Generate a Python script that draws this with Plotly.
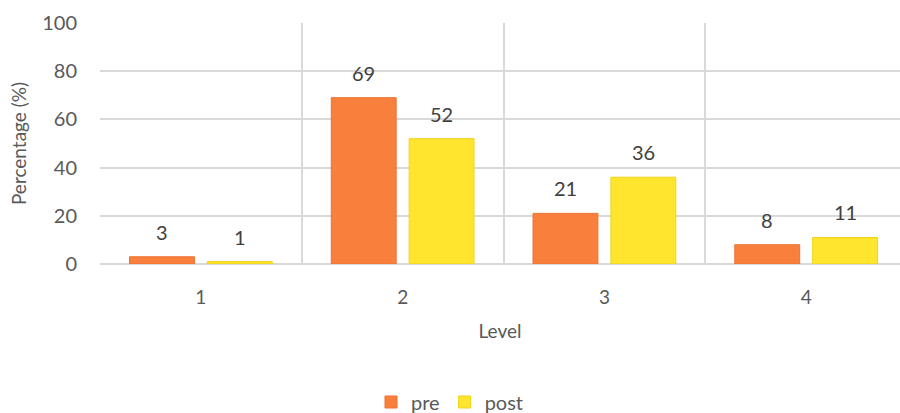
import plotly.graph_objects as go

levels = ["1", "2", "3", "4"]
pre = [3, 69, 21, 8]
post = [1, 52, 36, 11]

FONT = "Lato, 'Open Sans', sans-serif"
xs = list(range(len(levels)))

fig = go.Figure()
fig.add_trace(go.Bar(name="pre", x=xs, y=pre,
                     marker=dict(color="#F97F3C", line=dict(color="#EE7030", width=1))))
fig.add_trace(go.Bar(name="post", x=xs, y=post,
                     marker=dict(color="#FFE52E", line=dict(color="#F0D218", width=1))))

for i in xs:
    fig.add_annotation(x=i, y=pre[i], text=str(pre[i]), showarrow=False,
                       xshift=-39, yshift=11, yanchor="bottom",
                       font=dict(size=20, color="#404040", family=FONT))
    fig.add_annotation(x=i, y=post[i], text=str(post[i]), showarrow=False,
                       xshift=39, yshift=11, yanchor="bottom",
                       font=dict(size=20, color="#404040", family=FONT))

fig.update_layout(
    width=900, height=413,
    margin=dict(l=100, r=0, t=23, b=149),
    paper_bgcolor="white", plot_bgcolor="white",
    barmode="group", bargap=0.228, bargroupgap=0.167,
    font=dict(family=FONT, color="#595959", size=20),
    showlegend=True,
    legend=dict(orientation="h", xref="container", yref="container",
                x=0.5, xanchor="center", y=1 - 402 / 413, yanchor="middle",
                font=dict(size=20, color="#595959"), itemwidth=30,
                traceorder="normal"),
    xaxis=dict(range=[-0.5, 3.465], tickvals=xs, ticktext=levels,
               showgrid=False, zeroline=False, showline=False,
               ticks="", tickfont=dict(size=19, color="#595959"), ticklabelstandoff=20,
               title=dict(text="Level", font=dict(size=19, color="#595959"), standoff=17),
               minor=dict(tickvals=[-0.5, 0.5, 1.5, 2.5, 3.5], showgrid=True,
                          gridcolor="#D9D9D9", gridwidth=1.5, ticks="")),
    yaxis=dict(range=[0, 100], dtick=20, showgrid=True, gridcolor="#D9D9D9",
               gridwidth=1.5, zeroline=True, zerolinecolor="#D9D9D9", zerolinewidth=1.5,
               ticks="", tickfont=dict(size=20, color="#595959"), ticklabelstandoff=22,
               title=dict(text="Percentage (%)", font=dict(size=19, color="#595959"), standoff=10)),
)

fig.write_html("out.html")
